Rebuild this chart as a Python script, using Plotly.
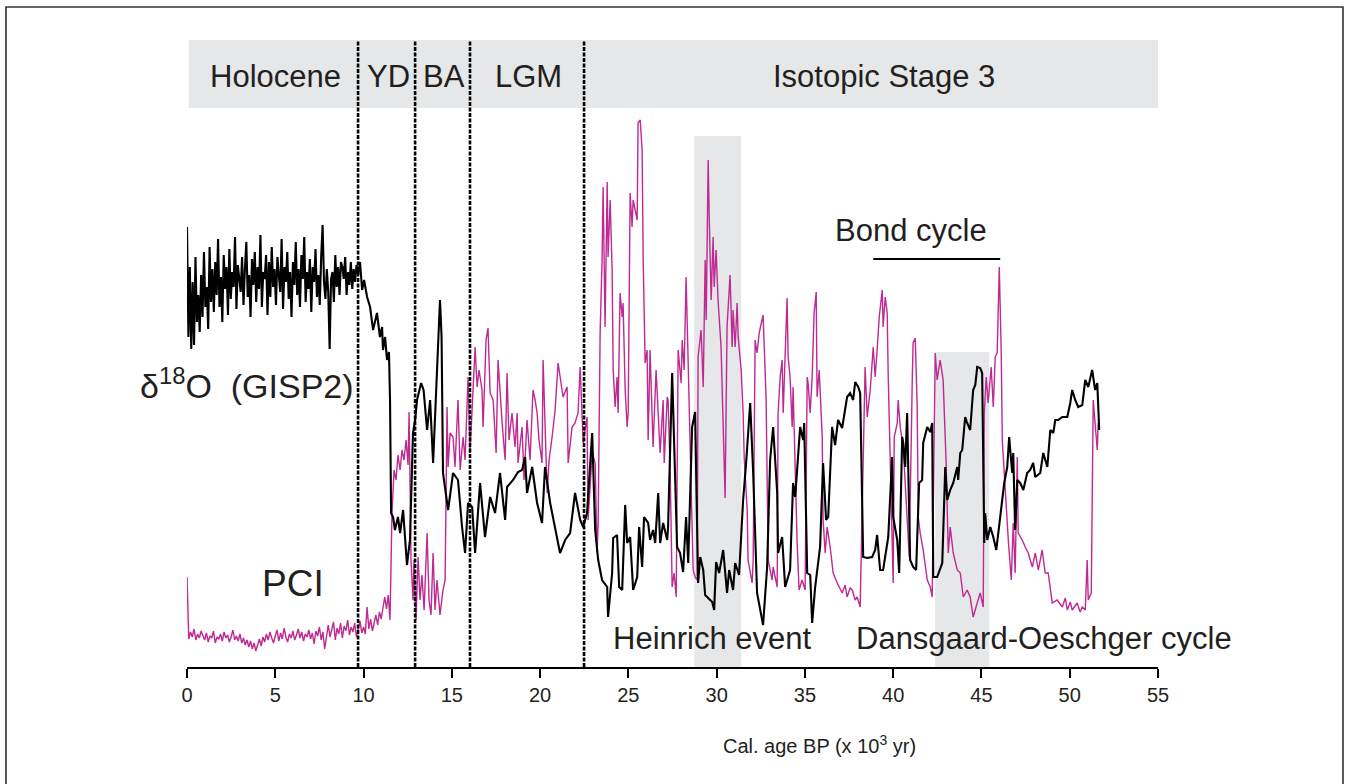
import numpy as np
import plotly.graph_objects as go

# ---------------- data (ages in kyr BP, values in relative units) ----------------
# GISP2 d18O, Holocene part sampled every 0.08 kyr from 0 kyr
d18o_holo_step = 0.08
d18o_holo = [
    440, 330, 400, 318, 385, 322, 410, 345, 372, 335,
    392, 350, 415, 360, 380, 338, 420, 365, 398, 355,
    405, 372, 428, 360, 390, 345, 412, 378, 400, 352,
    418, 368, 395, 380, 430, 358, 402, 385, 375, 410,
    362, 398, 425, 370, 392, 350, 408, 382, 415, 365,
    400, 378, 432, 360, 395, 388, 412, 352, 405, 370,
    420, 380, 398, 362, 410, 392, 375, 428, 358, 400,
    385, 415, 368, 395, 350, 405, 382, 425, 372, 398,
    360, 412, 388, 430, 365, 395, 378, 408, 355, 400,
    385, 418, 370, 392, 362, 410, 442, 385, 368, 398,
    375, 318, 388, 395, 365, 412, 380, 400, 372, 405,
    400, 388, 410, 372, 395, 382, 405, 378, 398, 385,
    402,
]
d18o_tail_age = [
    9.69, 9.80, 9.92, 10.03, 10.20, 10.37, 10.54, 10.76, 10.93, 11.05,
    11.10, 11.22, 11.33, 11.44, 11.50, 11.56, 11.67, 11.78, 11.95, 12.07,
    12.24, 12.46, 12.63, 12.80, 12.92, 13.03, 13.26, 13.40, 13.60, 13.77,
    13.94, 14.16, 14.33, 14.42, 14.50, 14.79, 15.07, 15.35, 15.58, 15.75,
    15.92, 16.15, 16.32, 16.60, 16.88, 17.17, 17.45, 17.73, 18.02, 18.13,
    18.47, 18.75, 18.98, 19.15, 19.26, 19.55, 19.83, 20.11, 20.28, 20.57,
    20.85, 21.13, 21.42, 21.70, 21.98, 22.27, 22.44, 22.66, 22.95, 23.12,
    23.29, 23.51, 23.80, 23.85, 24.08, 24.14, 24.36, 24.48, 24.65, 24.82,
    24.93, 25.10, 25.27, 25.50, 25.61, 25.78, 25.89, 26.12, 26.23, 26.40,
    26.52, 26.69, 26.80, 26.97, 27.20, 27.25, 27.48, 27.76, 27.93, 28.10,
    28.27, 28.39, 28.61, 28.78, 28.95, 29.07, 29.24, 29.35, 29.75, 29.86,
    29.97, 30.14, 30.37, 30.59, 30.71, 30.93, 31.05, 31.27, 31.50, 31.67,
    31.90, 32.07, 32.29, 32.63, 32.86, 33.03, 33.20, 33.43, 33.48, 33.71,
    33.88, 34.16, 34.33, 34.45, 34.73, 34.90, 34.96, 35.13, 35.30, 35.41,
    35.58, 35.86, 36.03, 36.20, 36.32, 36.54, 36.71, 36.88, 37.11, 37.28,
    37.39, 37.56, 37.73, 37.85, 38.02, 38.13, 38.30, 38.53, 38.81, 38.98,
    39.09, 39.26, 39.43, 39.72, 39.94, 40.00, 40.23, 40.34, 40.51, 40.57,
    40.68, 40.79, 40.96, 41.13, 41.30, 41.47, 41.64, 41.70, 41.93, 42.10,
    42.21, 42.27, 42.49, 42.78, 42.95, 43.06, 43.23, 43.40, 43.63, 43.68,
    43.80, 43.91, 44.08, 44.19, 44.36, 44.53, 44.65, 44.76, 44.93, 45.04,
    45.16, 45.21, 45.33, 45.50, 45.67, 45.84, 46.06, 46.29, 46.46, 46.57,
    46.74, 46.80, 46.91, 47.03, 47.20, 47.37, 47.59, 47.76, 47.93, 48.05,
    48.33, 48.50, 48.73, 48.90, 49.07, 49.18, 49.35, 49.58, 49.86, 50.03,
    50.14, 50.31, 50.48, 50.71, 50.88, 51.05, 51.27, 51.44, 51.56, 51.61,
    51.67,
]
d18o_tail = [
    392, 405, 377, 387, 370, 360, 337, 354, 330, 340,
    317, 330, 307, 315, 267, 154, 150, 137, 150, 134,
    157, 102, 127, 234, 247, 267, 284, 277, 237, 267,
    204, 307, 367, 330, 194, 157, 194, 187, 140, 114,
    164, 160, 114, 184, 130, 170, 154, 194, 147, 180,
    187, 195, 197, 210, 174, 200, 164, 144, 200, 164,
    140, 114, 127, 134, 174, 147, 140, 154, 234, 137,
    107, 87, 80, 50, 94, 129, 132, 80, 77, 162,
    124, 130, 77, 90, 140, 100, 150, 144, 127, 137,
    124, 174, 124, 144, 127, 140, 294, 120, 114, 95,
    150, 104, 240, 255, 84, 110, 97, 72, 65, 57,
    105, 94, 117, 74, 97, 77, 104, 92, 167, 204,
    264, 194, 74, 42, 100, 207, 240, 174, 114, 130,
    80, 97, 184, 170, 240, 227, 244, 94, 92, 44,
    80, 120, 204, 147, 150, 240, 222, 247, 239, 260,
    270, 274, 267, 285, 280, 274, 110, 109, 110, 117,
    132, 97, 97, 130, 210, 150, 127, 94, 230, 224,
    200, 254, 107, 100, 97, 184, 187, 224, 240, 235,
    244, 90, 90, 104, 200, 167, 177, 184, 200, 187,
    214, 217, 250, 244, 237, 277, 282, 300, 299, 294,
    124, 154, 127, 140, 130, 117, 147, 184, 200, 230,
    194, 214, 137, 187, 184, 177, 194, 197, 204, 190,
    194, 214, 200, 237, 234, 247, 247, 250, 250, 264,
    277, 267, 260, 262, 287, 280, 297, 277, 284, 267,
    237,
]

# PCI, Holocene part sampled every 0.1 kyr from 0 kyr
pci_holo_step = 0.1
pci_holo = [
    90, 28, 35, 30, 38, 27, 33, 29, 36, 31,
    27, 34, 25, 31, 29, 36, 24, 30, 28, 33,
    26, 35, 29, 32, 25, 30, 37, 27, 31, 26,
    33, 24, 29, 22, 27, 20, 26, 18, 24, 16,
    23, 28, 21, 30, 25, 33, 27, 35, 29, 24,
    31, 37, 26, 34, 28, 39, 30, 25, 33, 29,
    36, 27, 32, 38, 29, 35, 26, 33, 30, 37,
    28, 34, 23, 36, 31, 40, 27, 35, 18, 33,
    42, 30, 38, 45, 27, 39, 33, 44, 29, 41,
    36, 47, 32, 40, 35, 44, 30, 38, 46, 34,
    40, 33, 60, 38, 48, 36, 45, 52, 42, 55,
    48, 62, 70, 58, 72, 47,
]
pci_tail_age = [
    11.61, 11.73, 11.84, 11.95, 12.07, 12.18, 12.29, 12.41, 12.52, 12.58,
    12.63, 12.69, 12.80, 12.86, 12.97, 13.09, 13.20, 13.31, 13.43, 13.60,
    13.71, 13.82, 13.94, 14.05, 14.16, 14.33, 14.50, 14.62, 14.73, 14.79,
    14.90, 15.07, 15.18, 15.35, 15.47, 15.64, 15.75, 15.86, 15.92, 16.03,
    16.15, 16.32, 16.43, 16.54, 16.71, 16.77, 16.94, 17.05, 17.17, 17.34,
    17.51, 17.62, 17.85, 18.02, 18.13, 18.24, 18.41, 18.58, 18.70, 18.75,
    18.98, 19.09, 19.26, 19.43, 19.60, 19.72, 19.83, 19.94, 20.11, 20.17,
    20.40, 20.51, 20.68, 20.85, 21.02, 21.13, 21.30, 21.53, 21.59, 21.81,
    21.98, 22.15, 22.27, 22.44, 22.66, 22.72, 22.95, 23.12, 23.23, 23.29,
    23.40, 23.51, 23.57, 23.68, 23.80, 23.85, 23.97, 24.08, 24.14, 24.25,
    24.36, 24.42, 24.53, 24.65, 24.70, 24.82, 24.93, 24.99, 25.10, 25.21,
    25.27, 25.50, 25.55, 25.67, 25.78, 25.84, 25.95, 26.06, 26.12, 26.23,
    26.35, 26.40, 26.57, 26.69, 26.80, 26.97, 27.03, 27.20, 27.25, 27.37,
    27.48, 27.59, 27.71, 27.82, 27.99, 28.05, 28.16, 28.27, 28.33, 28.44,
    28.67, 28.78, 28.90, 28.95, 29.12, 29.24, 29.35, 29.41, 29.52, 29.58,
    29.69, 29.80, 29.86, 29.97, 30.08, 30.25, 30.48, 30.59, 30.65, 30.76,
    30.88, 30.93, 31.05, 31.16, 31.22, 31.39, 31.50, 31.56, 31.73, 31.78,
    32.01, 32.07, 32.18, 32.29, 32.41, 32.58, 32.63, 32.80, 32.92, 33.14,
    33.20, 33.43, 33.48, 33.60, 33.71, 33.77, 33.88, 33.99, 34.05, 34.16,
    34.28, 34.33, 34.56, 34.67, 34.84, 35.01, 35.13, 35.18, 35.30, 35.41,
    35.52, 35.64, 35.69, 35.81, 35.98, 36.03, 36.15, 36.26, 36.43, 36.60,
    36.83, 37.11, 37.28, 37.39, 37.56, 37.68, 37.85, 37.96, 38.13, 38.24,
    38.41, 38.53, 38.70, 38.87, 38.98, 39.09, 39.21, 39.38, 39.43, 39.55,
    39.66, 39.72, 39.83, 40.00, 40.06, 40.23, 40.28, 40.40, 40.57, 40.79,
    40.91, 41.08, 41.13, 41.25, 41.36, 41.42, 41.53, 41.70, 41.93, 42.10,
    42.21, 42.38, 42.49, 42.66, 42.78, 42.83, 43.00, 43.12, 43.23, 43.40,
    43.63, 43.80, 43.97, 44.19, 44.36, 44.53, 44.76, 44.93, 45.10, 45.16,
    45.27, 45.38, 45.55, 45.67, 45.78, 45.89, 46.01, 46.12, 46.18, 46.35,
    46.52, 46.69, 46.80, 46.91, 47.03, 47.08, 47.31, 47.48, 47.65, 47.88,
    48.05, 48.22, 48.44, 48.61, 48.78, 49.01, 49.29, 49.58, 49.75, 49.86,
    50.03, 50.14, 50.42, 50.59, 50.71, 50.88, 50.99, 51.05, 51.22, 51.33,
    51.44, 51.56, 51.61, 51.67,
]
pci_tail = [
    154, 197, 187, 212, 197, 217, 207, 227, 202, 255,
    187, 107, 67, 107, 47, 110, 67, 92, 57, 134,
    67, 52, 114, 57, 87, 52, 77, 87, 260, 200,
    234, 230, 200, 267, 197, 230, 207, 257, 290, 214,
    260, 320, 280, 297, 277, 240, 327, 339, 274, 267,
    214, 307, 244, 207, 294, 227, 254, 220, 254, 204,
    240, 187, 247, 207, 277, 267, 254, 227, 204, 307,
    174, 207, 230, 257, 304, 290, 270, 280, 204, 240,
    244, 254, 300, 224, 250, 147, 214, 204, 114, 144,
    334, 407, 480, 340, 485, 410, 467, 397, 297, 260,
    290, 254, 374, 350, 364, 277, 240, 254, 474, 440,
    467, 447, 544, 547, 517, 407, 304, 317, 227, 317,
    254, 220, 297, 257, 214, 267, 204, 270, 267, 194,
    80, 94, 70, 317, 284, 327, 297, 390, 347, 270,
    97, 90, 87, 310, 337, 280, 407, 347, 507, 450,
    367, 430, 380, 417, 367, 320, 169, 340, 357, 392,
    320, 357, 320, 364, 330, 297, 254, 210, 157, 107,
    84, 107, 327, 314, 334, 347, 352, 270, 107, 87,
    100, 80, 254, 290, 307, 254, 310, 369, 310, 290,
    240, 280, 124, 77, 87, 77, 290, 284, 254, 290,
    354, 375, 270, 297, 230, 147, 114, 140, 120, 94,
    84, 74, 82, 70, 79, 77, 67, 70, 60, 150,
    300, 250, 277, 320, 290, 317, 350, 377, 340, 370,
    354, 290, 207, 84, 230, 244, 267, 240, 220, 144,
    110, 287, 324, 329, 260, 150, 134, 117, 87, 80,
    70, 314, 287, 307, 289, 287, 204, 114, 140, 114,
    97, 94, 70, 77, 70, 50, 64, 74, 60, 254,
    290, 264, 300, 260, 310, 314, 400, 314, 227, 174,
    127, 87, 144, 94, 210, 134, 127, 120, 114, 100,
    114, 97, 117, 94, 94, 64, 67, 60, 69, 57,
    65, 57, 64, 55, 60, 57, 107, 67, 74, 267,
    244, 217, 244, 237,
]

# period labels and boundaries (kyr BP)
period_names = ["Holocene", "YD", "BA", "LGM", "Isotopic Stage 3"]
period_centers = [5.04, 11.39, 14.56, 19.32, 39.5]
period_bounds = [9.69, 12.92, 16.03, 22.49]
heinrich_span = [28.73, 31.39]
do_span = [42.38, 45.44]
bond_span = [38.87, 46.06]
x_ticks = [0, 5, 10, 15, 20, 25, 30, 35, 40, 45, 50, 55]

# ---------------- build series ----------------
d18o_age = [round(i * d18o_holo_step, 2) for i in range(len(d18o_holo))] + d18o_tail_age
d18o_val = d18o_holo + d18o_tail
pci_age = [round(i * pci_holo_step, 2) for i in range(len(pci_holo))] + pci_tail_age
pci_val = pci_holo + pci_tail

FONT = "Liberation Sans, Arial, Helvetica, sans-serif"
TXT = "#231f20"
GRAY = "#e6e7e8"
MAG = "#be2a92"

fig = go.Figure()
fig.add_trace(go.Scatter(x=pci_age, y=pci_val, mode="lines",
                         line=dict(color=MAG, width=1.4), name="PCI",
                         hoverinfo="x+y"))
fig.add_trace(go.Scatter(x=d18o_age, y=d18o_val, mode="lines",
                         line=dict(color="black", width=2.1), name="δ18O (GISP2)",
                         hoverinfo="x+y"))

shapes = []
# top period band
shapes.append(dict(type="rect", xref="x", yref="y", x0=0.1, x1=55, y0=559, y1=627,
                   fillcolor=GRAY, line=dict(width=0), layer="below"))
# Heinrich event & D-O boxes
shapes.append(dict(type="rect", xref="x", yref="y", x0=heinrich_span[0], x1=heinrich_span[1],
                   y0=0, y1=531, fillcolor=GRAY, line=dict(width=0), layer="below"))
shapes.append(dict(type="rect", xref="x", yref="y", x0=do_span[0], x1=do_span[1],
                   y0=0, y1=315, fillcolor=GRAY, line=dict(width=0), layer="below"))
# boundaries
for b in period_bounds:
    shapes.append(dict(type="line", xref="x", yref="y", x0=b, x1=b, y0=0, y1=627,
                       line=dict(color="black", width=2.6, dash="4px,1.5px"), layer="above"))
# Bond cycle bar
shapes.append(dict(type="line", xref="x", yref="y", x0=bond_span[0], x1=bond_span[1],
                   y0=408, y1=408, line=dict(color="black", width=2)))
# outer frame
shapes.append(dict(type="rect", xref="paper", yref="paper", x0=-0.1864, x1=1.1905,
                   y0=-0.2, y1=1.0201, line=dict(color="#333333", width=1.6),
                   fillcolor="rgba(0,0,0,0)", layer="above"))

ann = []
for name, c in zip(period_names, period_centers):
    ann.append(dict(x=c, y=591, xref="x", yref="y", text=name, showarrow=False,
                    font=dict(family=FONT, size=31, color=TXT)))
ann.append(dict(x=3.4, y=284, xref="x", yref="y", text="δ<sup>18</sup>O  (GISP2)",
                showarrow=False, font=dict(family=FONT, size=34, color=TXT)))
ann.append(dict(x=6.0, y=84, xref="x", yref="y", text="PCI", showarrow=False,
                font=dict(family=FONT, size=37, color=TXT)))
ann.append(dict(x=41.0, y=437, xref="x", yref="y", text="Bond cycle", showarrow=False,
                font=dict(family=FONT, size=31, color=TXT)))
ann.append(dict(x=29.75, y=29, xref="x", yref="y", text="Heinrich event", showarrow=False,
                font=dict(family=FONT, size=31, color=TXT)))
ann.append(dict(x=48.55, y=29, xref="x", yref="y", text="Dansgaard-Oeschger cycle",
                showarrow=False, font=dict(family=FONT, size=31, color=TXT)))
ann.append(dict(x=35.8, y=-0.142, xref="x", yref="paper",
                text="Cal. age BP (x 10<sup>3</sup> yr)", showarrow=False,
                font=dict(family=FONT, size=20, color=TXT)))

fig.update_layout(
    width=1349, height=784,
    margin=dict(l=187, r=191, t=20, b=117),
    paper_bgcolor="white", plot_bgcolor="white",
    showlegend=False,
    shapes=shapes, annotations=ann,
    xaxis=dict(range=[0, 55], tickvals=x_ticks, ticks="outside", ticklen=9,
               tickwidth=1.5, tickcolor="black", showline=True, linecolor="black",
               linewidth=1.8, showgrid=False, zeroline=False,
               tickfont=dict(family=FONT, size=20, color=TXT)),
    yaxis=dict(range=[0, 647], visible=False, showgrid=False, zeroline=False),
)

fig.write_html("out.html", config={"displayModeBar": False},
               post_script="document.body.style.margin='0';")
